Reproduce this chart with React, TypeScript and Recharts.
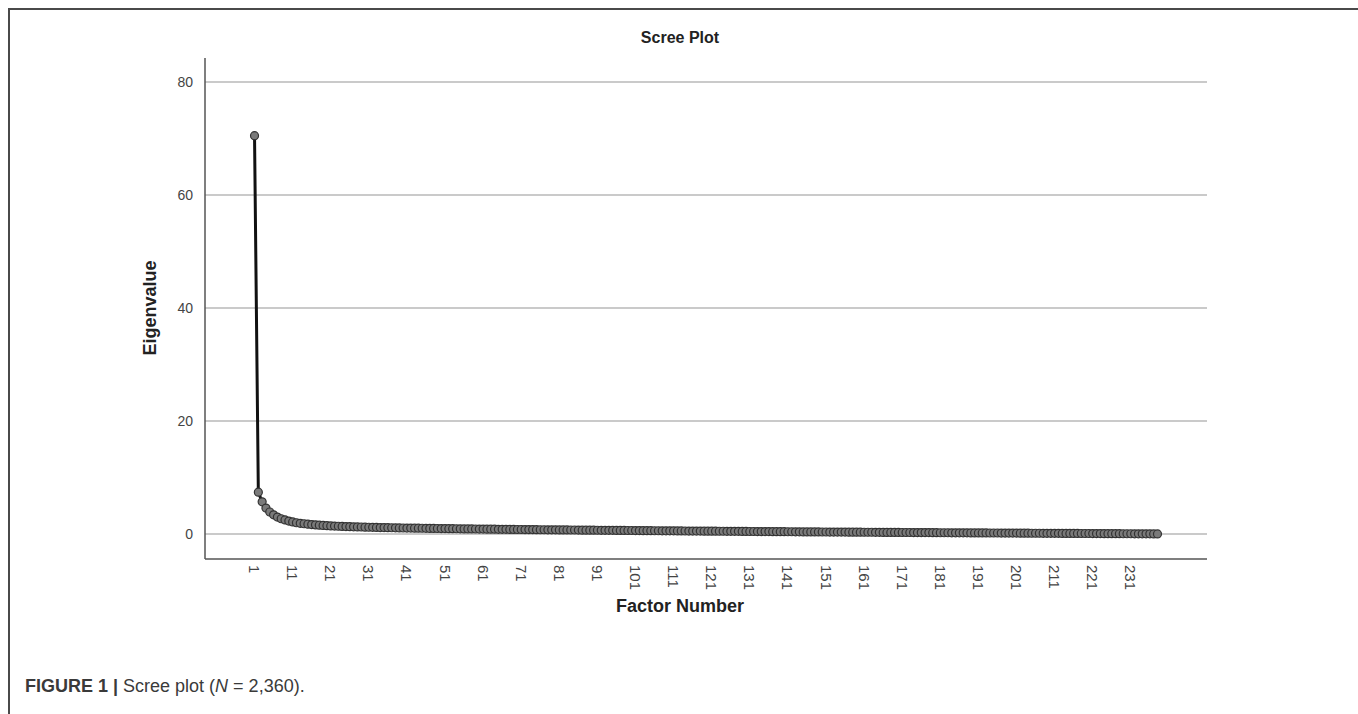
import { LineChart, Line, XAxis, YAxis, ReferenceLine } from "recharts"

// eigenvalues, factor 1..238
const eigenvalues = [
  70.5, 7.4, 5.7, 4.6, 3.9, 3.4, 3.0, 2.7, 2.5, 2.3,
  2.15, 2.0, 1.9, 1.82, 1.75, 1.68, 1.62, 1.57, 1.52, 1.48,
  1.44, 1.41, 1.38, 1.35, 1.32, 1.3, 1.28, 1.26, 1.24, 1.22,
  1.2, 1.18, 1.17, 1.15, 1.14, 1.12, 1.11, 1.1, 1.08, 1.07,
  1.06, 1.05, 1.04, 1.03, 1.02, 1.01, 1.0, 0.99, 0.98, 0.97,
  0.96, 0.95, 0.94, 0.93, 0.92, 0.91, 0.9, 0.9, 0.89, 0.88,
  0.87, 0.86, 0.86, 0.85, 0.84, 0.83, 0.83, 0.82, 0.81, 0.8,
  0.8, 0.79, 0.78, 0.78, 0.77, 0.76, 0.76, 0.75, 0.74, 0.74,
  0.73, 0.72, 0.72, 0.71, 0.71, 0.7, 0.69, 0.69, 0.68, 0.68,
  0.67, 0.66, 0.66, 0.65, 0.65, 0.64, 0.63, 0.63, 0.62, 0.62,
  0.61, 0.61, 0.6, 0.59, 0.59, 0.58, 0.58, 0.57, 0.57, 0.56,
  0.56, 0.55, 0.55, 0.54, 0.53, 0.53, 0.52, 0.52, 0.51, 0.51,
  0.5, 0.5, 0.49, 0.49, 0.48, 0.48, 0.47, 0.47, 0.46, 0.46,
  0.45, 0.45, 0.44, 0.44, 0.43, 0.43, 0.42, 0.42, 0.41, 0.41,
  0.4, 0.4, 0.39, 0.39, 0.38, 0.38, 0.38, 0.37, 0.37, 0.36,
  0.36, 0.35, 0.35, 0.34, 0.34, 0.34, 0.33, 0.33, 0.32, 0.32,
  0.31, 0.31, 0.31, 0.3, 0.3, 0.29, 0.29, 0.29, 0.28, 0.28,
  0.27, 0.27, 0.27, 0.26, 0.26, 0.25, 0.25, 0.25, 0.24, 0.24,
  0.23, 0.23, 0.23, 0.22, 0.22, 0.22, 0.21, 0.21, 0.2, 0.2,
  0.2, 0.19, 0.19, 0.18, 0.18, 0.18, 0.17, 0.17, 0.17, 0.16,
  0.16, 0.15, 0.15, 0.15, 0.14, 0.14, 0.14, 0.13, 0.13, 0.12,
  0.12, 0.12, 0.11, 0.11, 0.11, 0.1, 0.1, 0.09, 0.09, 0.09,
  0.08, 0.08, 0.08, 0.07, 0.07, 0.06, 0.06, 0.06, 0.05, 0.05,
  0.05, 0.04, 0.04, 0.03, 0.03, 0.03, 0.02, 0.02,
]

const xTicks = [1, 11, 21, 31, 41, 51, 61, 71, 81, 91, 101, 111, 121, 131, 141, 151, 161, 171, 181, 191, 201, 211, 221, 231]
const yTicks = [0, 20, 40, 60, 80]

const data = eigenvalues.map((v, i) => ({ factor: i + 1, eigen: v }))

const font = '"Liberation Sans", Arial, sans-serif'

const RotatedTick = (props: any) => {
  const { x, y, payload } = props
  return (
    <text
      x={x}
      y={y}
      transform={`rotate(90, ${x}, ${y})`}
      textAnchor="start"
      dominantBaseline="central"
      fontSize={15}
      fill="#444"
      fontFamily={font}
    >
      {payload.value}
    </text>
  )
}

export default function App() {
  return (
    <div style={{ position: "absolute", left: 0, top: 0, width: 1358, height: 714, background: "#fff", fontFamily: font }}>
      {/* figure frame */}
      <div style={{ position: "absolute", left: 8, top: 8, width: 1350, height: 706, borderTop: "2px solid #4a4a4a", borderLeft: "2px solid #4a4a4a" }} />

      <div style={{ position: "absolute", left: 680, top: 38, transform: "translate(-50%, -50%)", fontWeight: "bold", fontSize: 16, color: "#222", whiteSpace: "nowrap" }}>
        Scree Plot
      </div>

      <div style={{ position: "absolute", left: 150, top: 308, transform: "translate(-50%, -50%) rotate(-90deg)", fontWeight: "bold", fontSize: 18, color: "#222", whiteSpace: "nowrap" }}>
        Eigenvalue
      </div>

      <div style={{ position: "absolute", left: 680, top: 606, transform: "translate(-50%, -50%)", fontWeight: "bold", fontSize: 18, color: "#222", whiteSpace: "nowrap" }}>
        Factor Number
      </div>

      <div style={{ position: "absolute", left: 25, top: 676, fontSize: 18, color: "#3a3a3a", whiteSpace: "nowrap" }}>
        <b>FIGURE 1 |</b> Scree plot (<i>N</i> = 2,360).
      </div>

      <div style={{ position: "absolute", left: 0, top: 0 }}>
        <LineChart width={1358} height={714} data={data} margin={{ top: 58, right: 151, bottom: 95, left: 145 }}>
          <XAxis
            dataKey="factor"
            type="number"
            domain={[-12, 251]}
            ticks={xTicks}
            interval={0}
            height={60}
            tickLine={false}
            tickSize={0}
            tickMargin={6}
            axisLine={{ stroke: "#555", strokeWidth: 1.5 }}
            tick={(p: any) => <RotatedTick {...p} />}
            allowDataOverflow
          />
          <YAxis
            type="number"
            domain={[-4.42, 84.25]}
            ticks={yTicks}
            width={60}
            tickLine={false}
            tickSize={0}
            tickMargin={12}
            axisLine={{ stroke: "#555", strokeWidth: 1.5 }}
            tick={{ fontSize: 14, fill: "#444", fontFamily: font }}
            allowDataOverflow
          />
          {yTicks.map((t) => (
            <ReferenceLine key={t} y={t} stroke="#b8b8b8" strokeWidth={1.5} />
          ))}
          <Line
            type="linear"
            dataKey="eigen"
            stroke="#111"
            strokeWidth={3}
            dot={{ r: 4, fill: "#7a7a7a", stroke: "#333", strokeWidth: 1.2 }}
            isAnimationActive={false}
          />
        </LineChart>
      </div>
    </div>
  )
}
